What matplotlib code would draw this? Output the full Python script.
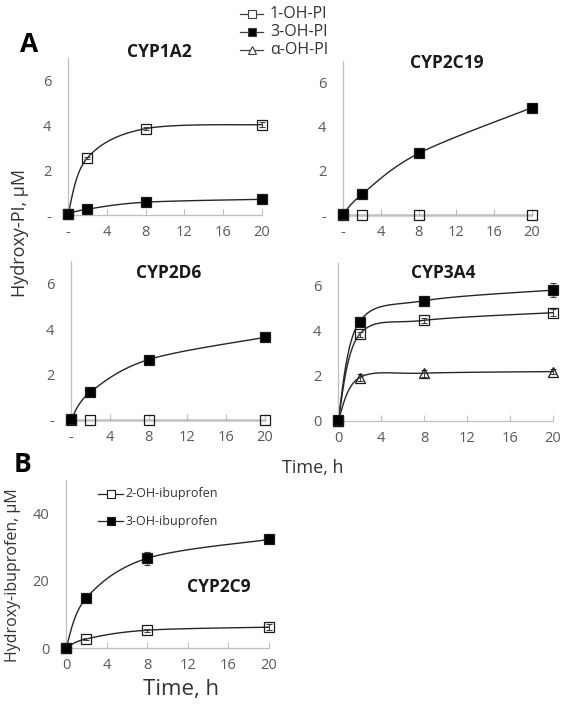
import numpy as np
import matplotlib
matplotlib.use("Agg")
from matplotlib import pyplot as plt

plt.rcParams['font.family'] = ['Open Sans', 'DejaVu Sans']

t = [0, 2, 8, 20]

# panel A data (uM)
cyp1a2_1oh = [0.05, 2.55, 3.85, 4.03]
cyp1a2_3oh = [0.05, 0.26, 0.57, 0.70]
cyp1a2_1oh_err = [0, 0.05, 0.08, 0.1]

cyp2c19_1oh = [0.0, 0.0, 0.0, 0.0]
cyp2c19_3oh = [0.03, 0.94, 2.80, 4.88]

cyp2d6_1oh = [0.0, 0.0, 0.0, 0.0]
cyp2d6_3oh = [0.03, 1.23, 2.66, 3.64]

cyp3a4_1oh = [0.0, 3.84, 4.46, 4.80]
cyp3a4_3oh = [0.05, 4.40, 5.33, 5.80]
cyp3a4_aoh = [0.0, 1.92, 2.12, 2.19]
cyp3a4_1oh_err = [0, 0.12, 0.1, 0.15]
cyp3a4_3oh_err = [0, 0.1, 0.1, 0.3]
cyp3a4_aoh_err = [0, 0.15, 0.15, 0.1]

# panel B data (uM)
cyp2c9_2oh = [0.0, 2.7, 5.3, 6.2]
cyp2c9_3oh = [0.0, 14.9, 26.7, 32.3]
cyp2c9_2oh_err = [0, 0.3, 0.5, 0.8]
cyp2c9_3oh_err = [0, 0.6, 2.0, 1.0]

W, H = 567, 711
fig = plt.figure(figsize=(W / 100, H / 100), dpi=100)

grey = '#bfbfbf'
tickc = '#595959'


def box(l, r, b, tp):
    return [l / W, 1 - b / H, (r - l) / W, (b - tp) / H]


def smooth(x, y, n=30):
    # excel-like smoothed line (cardinal bezier)
    x = np.asarray(x, float)
    y = np.asarray(y, float)
    px = np.concatenate([[x[0]], x, [x[-1]]])
    py = np.concatenate([[y[0]], y, [y[-1]]])
    xs, ys = [], []
    s = np.linspace(0, 1, n)
    for i in range(1, len(px) - 2):
        p0 = np.array([px[i], py[i]])
        p3 = np.array([px[i + 1], py[i + 1]])
        p1 = p0 + (np.array([px[i + 1], py[i + 1]]) - np.array([px[i - 1], py[i - 1]])) / 6
        p2 = p3 - (np.array([px[i + 2], py[i + 2]]) - np.array([px[i], py[i]])) / 6
        b = ((1 - s) ** 3)[:, None] * p0 + (3 * (1 - s) ** 2 * s)[:, None] * p1 \
            + (3 * (1 - s) * s ** 2)[:, None] * p2 + (s ** 3)[:, None] * p3
        xs.extend(b[:, 0])
        ys.extend(b[:, 1])
    return xs, ys


def series(ax, y, marker, fc, err=None, ms=6.5):
    xs, ys = smooth(t, y)
    ax.plot(xs, ys, color='#262626', lw=1.0, clip_on=False, zorder=2)
    if err is not None:
        ax.errorbar(t, y, yerr=err, fmt='none', ecolor='#404040', elinewidth=0.8,
                    capsize=2.5, capthick=0.8, clip_on=False, zorder=3)
    ax.plot(t, y, linestyle='none', marker=marker, ms=ms, mfc=fc, mec='#1a1a1a',
            mew=0.9, clip_on=False, zorder=4)


def style(ax, ymax, yticks, ylabs, xlabs, title, tpos=(0.5, 1.0)):
    ax.set_xlim(0, 20)
    ax.set_ylim(0, ymax)
    ax.set_xticks([0, 4, 8, 12, 16, 20])
    ax.set_xticklabels(xlabs)
    ax.set_yticks(yticks)
    ax.set_yticklabels(ylabs)
    for s in ['top', 'right']:
        ax.spines[s].set_visible(False)
    for s in ['left', 'bottom']:
        ax.spines[s].set_color(grey)
        ax.spines[s].set_linewidth(0.9)
    ax.tick_params(axis='x', direction='in', length=4, color=grey, labelsize=10.5,
                   labelcolor=tickc, pad=7)
    ax.tick_params(axis='y', length=0, labelsize=10.5, labelcolor=tickc, pad=12)
    ax.text(tpos[0], tpos[1], title, transform=ax.transAxes, ha='center', va='center',
            fontsize=12.5, fontweight='bold', color='#1a1a1a')


dash_x = ['-', '4', '8', '12', '16', '20']
num_x = ['0', '4', '8', '12', '16', '20']

ax1 = fig.add_axes(box(68, 262, 215, 58))
series(ax1, cyp1a2_1oh, 's', 'none', cyp1a2_1oh_err)
series(ax1, cyp1a2_3oh, 's', 'black')
style(ax1, 7, [0, 2, 4, 6], ['-', '2', '4', '6'], dash_x, 'CYP1A2', (0.47, 1.04))

ax2 = fig.add_axes(box(343, 532, 215, 61))
series(ax2, cyp2c19_1oh, 's', 'none')
series(ax2, cyp2c19_3oh, 's', 'black')
style(ax2, 7, [0, 2, 4, 6], ['-', '2', '4', '6'], dash_x, 'CYP2C19', (0.55, 0.99))

ax3 = fig.add_axes(box(71, 265, 420, 261))
series(ax3, cyp2d6_1oh, 's', 'none')
series(ax3, cyp2d6_3oh, 's', 'black')
style(ax3, 7, [0, 2, 4, 6], ['-', '2', '4', '6'], dash_x, 'CYP2D6', (0.505, 0.925))

ax4 = fig.add_axes(box(338, 553, 421, 263))
series(ax4, cyp3a4_aoh, '^', 'none', cyp3a4_aoh_err)
series(ax4, cyp3a4_1oh, 's', 'none', cyp3a4_1oh_err)
series(ax4, cyp3a4_3oh, 's', 'black', cyp3a4_3oh_err)
style(ax4, 7, [0, 2, 4, 6], ['0', '2', '4', '6'], num_x, 'CYP3A4', (0.49, 0.937))

ax5 = fig.add_axes(box(66, 269, 648, 480))
series(ax5, cyp2c9_2oh, 's', 'none', cyp2c9_2oh_err)
series(ax5, cyp2c9_3oh, 's', 'black', cyp2c9_3oh_err)
style(ax5, 50, [0, 20, 40], ['0', '20', '40'], num_x, 'CYP2C9', (0.754, 0.363))

# legend for panel A
leg_rows = [('1-OH-PI', 's', 'none', 14), ('3-OH-PI', 's', 'black', 32),
            ('\u03b1-OH-PI', '^', 'none', 50)]
for lab, mk, fc, yp in leg_rows:
    yf = 1 - yp / H
    fig.add_artist(plt.Line2D([240 / W, 263 / W], [yf, yf], color='#404040', lw=0.9))
    fig.add_artist(plt.Line2D([251.5 / W], [yf], marker=mk, ms=5.5, mfc=fc if fc != 'none' else 'white',
                              mec='#404040', mew=0.8, linestyle='none'))
    fig.text(270 / W, yf, lab, ha='left', va='center', fontsize=11.5, color='#333333')

# legend for panel B
for lab, fc, yp in [('2-OH-ibuprofen', 'white', 494), ('3-OH-ibuprofen', 'black', 521)]:
    yf = 1 - yp / H
    fig.add_artist(plt.Line2D([98 / W, 123 / W], [yf, yf], color='#262626', lw=0.9))
    fig.add_artist(plt.Line2D([110.5 / W], [yf], marker='s', ms=6, mfc=fc,
                              mec='#1a1a1a', mew=0.8, linestyle='none'))
    fig.text(125 / W, yf, lab, ha='left', va='center', fontsize=9, color='#333333')

fig.text(29 / W, 1 - 44 / H, 'A', ha='center', va='center', fontsize=19, fontweight='bold')
fig.text(22 / W, 1 - 464 / H, 'B', ha='center', va='center', fontsize=19, fontweight='bold')

fig.text(20 / W, 1 - 233 / H, 'Hydroxy-PI, \u00b5M', rotation=90, ha='center', va='center',
         fontsize=13, color='#333333')
fig.text(13 / W, 1 - 575 / H, 'Hydroxy-ibuprofen, \u00b5M', rotation=90, ha='center', va='center',
         fontsize=11.5, color='#333333')
fig.text(313 / W, 1 - 468 / H, 'Time, h', ha='center', va='center', fontsize=13, color='#333333')
fig.text(181 / W, 1 - 689 / H, 'Time, h', ha='center', va='center', fontsize=16, color='#333333')

fig.savefig('out.png', dpi=100)
